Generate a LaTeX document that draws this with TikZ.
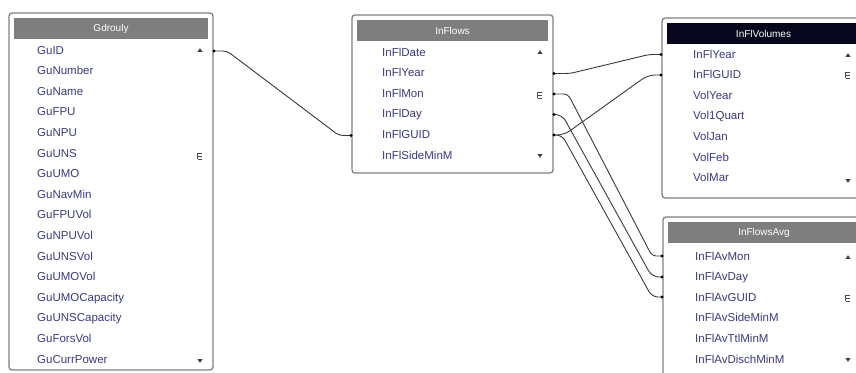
\documentclass[tikz,border=0pt]{standalone}
\usepackage{fontspec}
\setmainfont{Liberation Sans}
\definecolor{rowc}{HTML}{3A3A82}
\definecolor{framec}{HTML}{808080}
\definecolor{headgray}{HTML}{7E7E7E}
\definecolor{headblack}{HTML}{06061C}
\definecolor{linkc}{HTML}{3A3A3A}
\tikzset{
  tabframe/.style={draw=framec,line width=1.3pt,fill=white,rounded corners=3pt},
  titletext/.style={text=white,font=\fontsize{10}{12}\selectfont,inner sep=0pt},
  rowtext/.style={text=rowc,font=\fontsize{11.5}{13}\selectfont,anchor=west,inner sep=0pt,text height=8.5pt,text depth=2.5pt},
  link/.style={draw=linkc,line width=0.9pt,rounded corners=4pt},
  enddot/.style={fill=black},
  markc/.style={fill=black!75,draw=none}
}
\newcommand\dbtab[8]{%
  \draw[tabframe] (#2,#3) rectangle (#4,#5);
  \fill[#6] ({#2+5},{#3+5}) rectangle ({#4-5},{#3+26});
  \node[titletext] (#1-title) at ({(#2+#4)/2},{#3+15.5}) {#7};
  \foreach \t [count=\i] in {#8} {
    \node[rowtext] (#1-\i) at (\tabx,{\taby+(\i-1)*20.6}) {\t};
  }
}
\newcommand\scrollmarks[4]{%
  \fill[markc] ({#1-2.5},{#2+1.8}) -- ({#1+2.5},{#2+1.8}) -- (#1,{#2-1.8}) -- cycle;
  \draw[black!70,line width=0.7pt] ({#1-2.5},{#3-3}) -- ({#1+2},{#3-3})
     ({#1-2.5},#3) -- ({#1+2},#3) ({#1-2.5},{#3+3}) -- ({#1+2},{#3+3})
     ({#1-2.5},{#3-3}) -- ({#1-2.5},{#3+3});
  \fill[markc] ({#1-2.5},{#4-1.8}) -- ({#1+2.5},{#4-1.8}) -- (#1,{#4+1.8}) -- cycle;
}
\begin{document}
\begin{tikzpicture}[x=1pt,y=-1pt]
\useasboundingbox (0,0) rectangle (856,372);
\begin{scope}
\clip (0,0) rectangle (856,372);
\fill[white] (0,0) rectangle (856,372);

% Table Gdrouly
\def\tabx{37}\def\taby{51}
\dbtab{gu}{9}{13}{213}{370}{headgray}{Gdrouly}{GuID,GuNumber,GuName,GuFPU,GuNPU,GuUNS,GuUMO,GuNavMin,GuFPUVol,GuNPUVol,GuUNSVol,GuUMOVol,GuUMOCapacity,GuUNSCapacity,GuForsVol,GuCurrPower}
\scrollmarks{200}{50}{156}{361}

% Table InFlows
\def\tabx{382}\def\taby{53}
\dbtab{in}{352}{15}{553}{173}{headgray}{InFlows}{InFlDate,InFlYear,InFlMon,InFlDay,InFlGUID,InFlSideMinM}
\scrollmarks{540}{52}{95}{156}

% Table InFlVolumes
\def\tabx{693}\def\taby{55}
\dbtab{vol}{662}{18}{865}{198}{headblack}{InFlVolumes}{InFlYear,InFlGUID,VolYear,Vol1Quart,VolJan,VolFeb,VolMar}
\scrollmarks{848}{55}{75}{181}

% Table InFlowsAvg
\def\tabx{695}\def\taby{257}
\dbtab{avg}{663}{217}{865}{390}{headgray}{InFlowsAvg}{InFlAvMon,InFlAvDay,InFlAvGUID,InFlAvSideMinM,InFlAvTtlMinM,InFlAvDischMinM}
\scrollmarks{848}{257}{298}{360}

% connector end points on table borders
\coordinate (gu-r1) at (214,51);
\coordinate (in-l5) at (351,135.5);
\coordinate (in-r2) at (554,73.5);
\coordinate (in-r3) at (554,94);
\coordinate (in-r4) at (554,114.5);
\coordinate (in-r5) at (554,135);
\coordinate (vol-l1) at (661,54.5);
\coordinate (vol-l2) at (661,75);
\coordinate (avg-l1) at (662,256);
\coordinate (avg-l2) at (662,277);
\coordinate (avg-l3) at (662,297);

\draw[link] (gu-r1) -- ++(13,0) -- (339,135.5) -- (in-l5);
\draw[link] (in-r2) -- ++(16,0) -- (649,54.5) -- (vol-l1);
\draw[link,rounded corners=7pt] (in-r5) -- ++(10,0) -- (648,75) -- (vol-l2);
\draw[link] (in-r3) -- ++(14,0) -- (652,256) -- (avg-l1);
\draw[link,rounded corners=7pt] (in-r4) -- ++(8,0) -- (652,277) -- (avg-l2);
\draw[link,rounded corners=6pt] (in-r5) -- ++(8,0) -- (652,297) -- (avg-l3);

\foreach \p in {gu-r1,in-l5,in-r2,in-r3,in-r4,in-r5,vol-l1,vol-l2,avg-l1,avg-l2,avg-l3}
  \fill[enddot] (\p) circle (1.6);
\end{scope}
\end{tikzpicture}
\end{document}
